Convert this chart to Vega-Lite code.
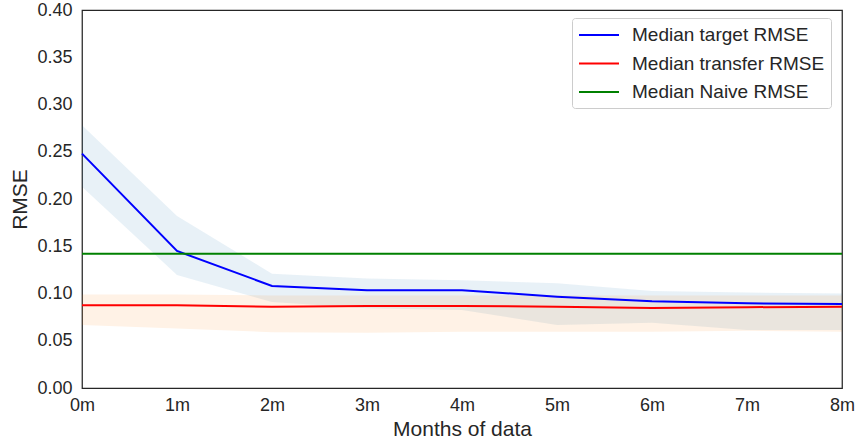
{
  "$schema": "https://vega.github.io/schema/vega-lite/v6.json",
  "width": 760,
  "height": 378,
  "autosize": {"type": "none"},
  "padding": {"left": 82, "top": 10, "right": 15, "bottom": 53},
  "background": "white",
  "config": {
    "font": "Liberation Sans",
    "view": {"stroke": "#262626", "strokeWidth": 1.25},
    "axis": {"labelColor": "#262626", "titleColor": "#262626", "labelFont": "Liberation Sans", "titleFont": "Liberation Sans", "titleFontWeight": "normal", "grid": false, "ticks": false, "domain": false, "labelFontSize": 18, "titleFontSize": 21}
  },
  "data": {
    "values": [
      {"month": 0, "series": "Median target RMSE", "median": 0.248, "lo": 0.213, "hi": 0.278},
      {"month": 1, "series": "Median target RMSE", "median": 0.145, "lo": 0.1196, "hi": 0.182},
      {"month": 2, "series": "Median target RMSE", "median": 0.108, "lo": 0.091, "hi": 0.121},
      {"month": 3, "series": "Median target RMSE", "median": 0.1035, "lo": 0.0843, "hi": 0.116},
      {"month": 4, "series": "Median target RMSE", "median": 0.1035, "lo": 0.0825, "hi": 0.114},
      {"month": 5, "series": "Median target RMSE", "median": 0.0966, "lo": 0.0667, "hi": 0.1108},
      {"month": 6, "series": "Median target RMSE", "median": 0.0917, "lo": 0.069, "hi": 0.1026},
      {"month": 7, "series": "Median target RMSE", "median": 0.0896, "lo": 0.0614, "hi": 0.101},
      {"month": 8, "series": "Median target RMSE", "median": 0.089, "lo": 0.0614, "hi": 0.1},
      {"month": 0, "series": "Median transfer RMSE", "median": 0.0875, "lo": 0.0667, "hi": 0.099},
      {"month": 1, "series": "Median transfer RMSE", "median": 0.0875, "lo": 0.063, "hi": 0.099},
      {"month": 2, "series": "Median transfer RMSE", "median": 0.086, "lo": 0.059, "hi": 0.098},
      {"month": 3, "series": "Median transfer RMSE", "median": 0.0868, "lo": 0.0585, "hi": 0.098},
      {"month": 4, "series": "Median transfer RMSE", "median": 0.0868, "lo": 0.0596, "hi": 0.098},
      {"month": 5, "series": "Median transfer RMSE", "median": 0.086, "lo": 0.0596, "hi": 0.098},
      {"month": 6, "series": "Median transfer RMSE", "median": 0.0847, "lo": 0.0596, "hi": 0.098},
      {"month": 7, "series": "Median transfer RMSE", "median": 0.0855, "lo": 0.0605, "hi": 0.098},
      {"month": 8, "series": "Median transfer RMSE", "median": 0.086, "lo": 0.0596, "hi": 0.098},
      {"month": 0, "series": "Median Naive RMSE", "median": 0.142},
      {"month": 1, "series": "Median Naive RMSE", "median": 0.142},
      {"month": 2, "series": "Median Naive RMSE", "median": 0.142},
      {"month": 3, "series": "Median Naive RMSE", "median": 0.142},
      {"month": 4, "series": "Median Naive RMSE", "median": 0.142},
      {"month": 5, "series": "Median Naive RMSE", "median": 0.142},
      {"month": 6, "series": "Median Naive RMSE", "median": 0.142},
      {"month": 7, "series": "Median Naive RMSE", "median": 0.142},
      {"month": 8, "series": "Median Naive RMSE", "median": 0.142}
    ]
  },
  "encoding": {
    "x": {
      "field": "month", "type": "quantitative",
      "scale": {"domain": [0, 8], "nice": false, "zero": false},
      "axis": {"title": "Months of data", "values": [0,1,2,3,4,5,6,7,8], "labelExpr": "datum.value + 'm'", "labelPadding": 8, "titlePadding": 4, "labelFlush": false}
    }
  },
  "layer": [
    {
      "transform": [{"filter": "datum.series !== 'Median Naive RMSE'"}],
      "mark": {"type": "area", "opacity": 0.1},
      "encoding": {
        "y": {
          "field": "lo", "type": "quantitative",
          "scale": {"domain": [0, 0.4], "nice": false},
          "axis": {"title": "RMSE", "values": [0, 0.05, 0.1, 0.15, 0.2, 0.25, 0.3, 0.35, 0.4], "format": ".2f", "labelPadding": 10, "titlePadding": 6}
        },
        "y2": {"field": "hi"},
        "fill": {"field": "series", "type": "nominal", "scale": {"domain": ["Median target RMSE", "Median transfer RMSE"], "range": ["#1f77b4", "#ff7f0e"]}, "legend": null}
      }
    },
    {
      "mark": {"type": "line", "strokeWidth": 2},
      "encoding": {
        "y": {
          "field": "median", "type": "quantitative",
          "scale": {"domain": [0, 0.4], "nice": false},
          "axis": {"title": "RMSE", "values": [0, 0.05, 0.1, 0.15, 0.2, 0.25, 0.3, 0.35, 0.4], "format": ".2f", "labelPadding": 10, "titlePadding": 6}
        },
        "stroke": {
          "field": "series", "type": "nominal",
          "scale": {"domain": ["Median target RMSE", "Median transfer RMSE", "Median Naive RMSE"], "range": ["#0000ff", "#ff0000", "#008000"]},
          "legend": {
            "title": null, "orient": "none", "legendX": 490, "legendY": 8,
            "symbolType": "M-2,0L2,0", "symbolSize": 400, "symbolStrokeWidth": 2, "symbolOffset": 10,
            "labelFontSize": 19, "labelColor": "#262626", "labelFont": "Liberation Sans", "labelOffset": 22, "labelLimit": 400,
            "rowPadding": 7.5, "padding": 6, "strokeColor": "#cccccc", "fillColor": "white", "cornerRadius": 3
          }
        }
      }
    }
  ]
}
